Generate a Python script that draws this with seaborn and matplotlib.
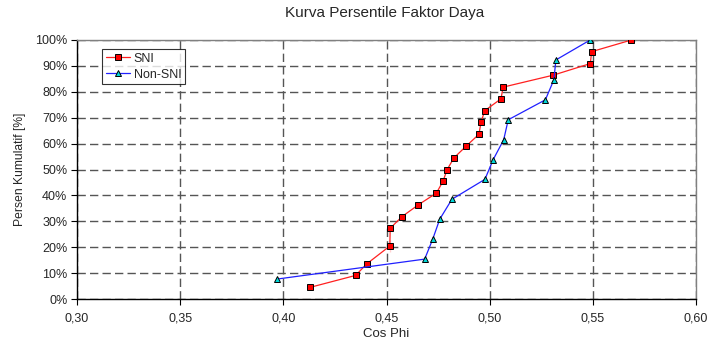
import matplotlib
matplotlib.use("Agg")
import matplotlib.pyplot as plt
import seaborn as sns
import pandas as pd
import numpy as np
from matplotlib.ticker import FuncFormatter, MultipleLocator

# Data
sni_x = [0.413, 0.435, 0.4405, 0.4516, 0.4516, 0.4518, 0.4575, 0.4655, 0.4742, 0.4774,
         0.4794, 0.4827, 0.4887, 0.4948, 0.4958, 0.4976, 0.5055, 0.5065, 0.5307, 0.5488,
         0.5494, 0.5687]
sni_y = [4.5, 9.1, 13.6, 18.2, 22.7, 27.3, 31.8, 36.4, 40.9, 45.5, 50.0, 54.5, 59.1,
         63.6, 68.2, 72.7, 77.3, 81.8, 86.4, 90.9, 95.5, 100.0]
non_x = [0.397, 0.4685, 0.4724, 0.4758, 0.4817, 0.4977, 0.5017, 0.5068, 0.5090, 0.5270,
         0.5311, 0.5321, 0.5487]
non_y = [7.7, 15.4, 23.1, 30.8, 38.5, 46.2, 53.8, 61.5, 69.2, 76.9, 84.6, 92.3, 100.0]

title = "Kurva Persentile Faktor Daya"
xlabel = "Cos Phi"
ylabel = "Persen Kumulatif [%]"

sns.set_style("white")
plt.rcParams['font.family'] = ['Liberation Sans', 'DejaVu Sans']

fig = plt.figure(figsize=(7.08, 3.44), dpi=100)
ax = fig.add_axes([77/708, 1-299/344, (696-77)/708, (299-40)/344])

df_sni = pd.DataFrame({"x": sni_x, "y": sni_y})
df_non = pd.DataFrame({"x": non_x, "y": non_y})

sns.lineplot(data=df_sni, x="x", y="y", sort=False, ax=ax, color="#ff2020", lw=0.9,
             marker="s", markersize=4.4, markerfacecolor="#ff0000", markeredgecolor="black",
             markeredgewidth=0.7, label="SNI", zorder=4)
sns.lineplot(data=df_non, x="x", y="y", sort=False, ax=ax, color="#2020ff", lw=0.9,
             marker="^", markersize=5.0, markerfacecolor="#00d8d8", markeredgecolor="black",
             markeredgewidth=0.7, label="Non-SNI", zorder=4)

ax.set_xlim(0.30, 0.60)
ax.set_ylim(0, 100)
ax.xaxis.set_major_locator(MultipleLocator(0.05))
ax.yaxis.set_major_locator(MultipleLocator(10))
ax.xaxis.set_major_formatter(FuncFormatter(lambda v, p: f"{v:.2f}".replace(".", ",")))
ax.yaxis.set_major_formatter(FuncFormatter(lambda v, p: f"{int(round(v))}%"))

ax.grid(True, color="#555555", linestyle=(0, (6, 3)), linewidth=1.0)
ax.set_axisbelow(True)

for s in ["top", "right"]:
    ax.spines[s].set_color("#808080")
    ax.spines[s].set_linewidth(1.0)
for s in ["left", "bottom"]:
    ax.spines[s].set_color("black")
    ax.spines[s].set_linewidth(1.0)

ax.tick_params(axis="both", direction="out", length=4, width=0.8, color="black",
               labelsize=9, bottom=True, left=True)
ax.tick_params(axis="x", pad=6)
ax.tick_params(axis="y", pad=3)

ax.set_xlabel(xlabel, fontsize=9.5)
ax.set_ylabel(ylabel, fontsize=8.7)
ax.xaxis.set_label_coords(0.5, -0.112)
ax.yaxis.set_label_coords(-0.082, 0.5)
fig.text(0.5 * (77 + 692) / 708, 1 - 13/344, title, fontsize=11, ha="center", va="center")

leg = ax.legend(loc="upper left", bbox_to_anchor=(25/619, 1-9/259), frameon=True,
                fancybox=False, fontsize=9, handlelength=1.9, borderpad=0.3,
                labelspacing=0.3, handletextpad=0.35, borderaxespad=0)
leg.get_frame().set_edgecolor("black")
leg.get_frame().set_linewidth(0.8)

fig.savefig("out.png", dpi=100)
